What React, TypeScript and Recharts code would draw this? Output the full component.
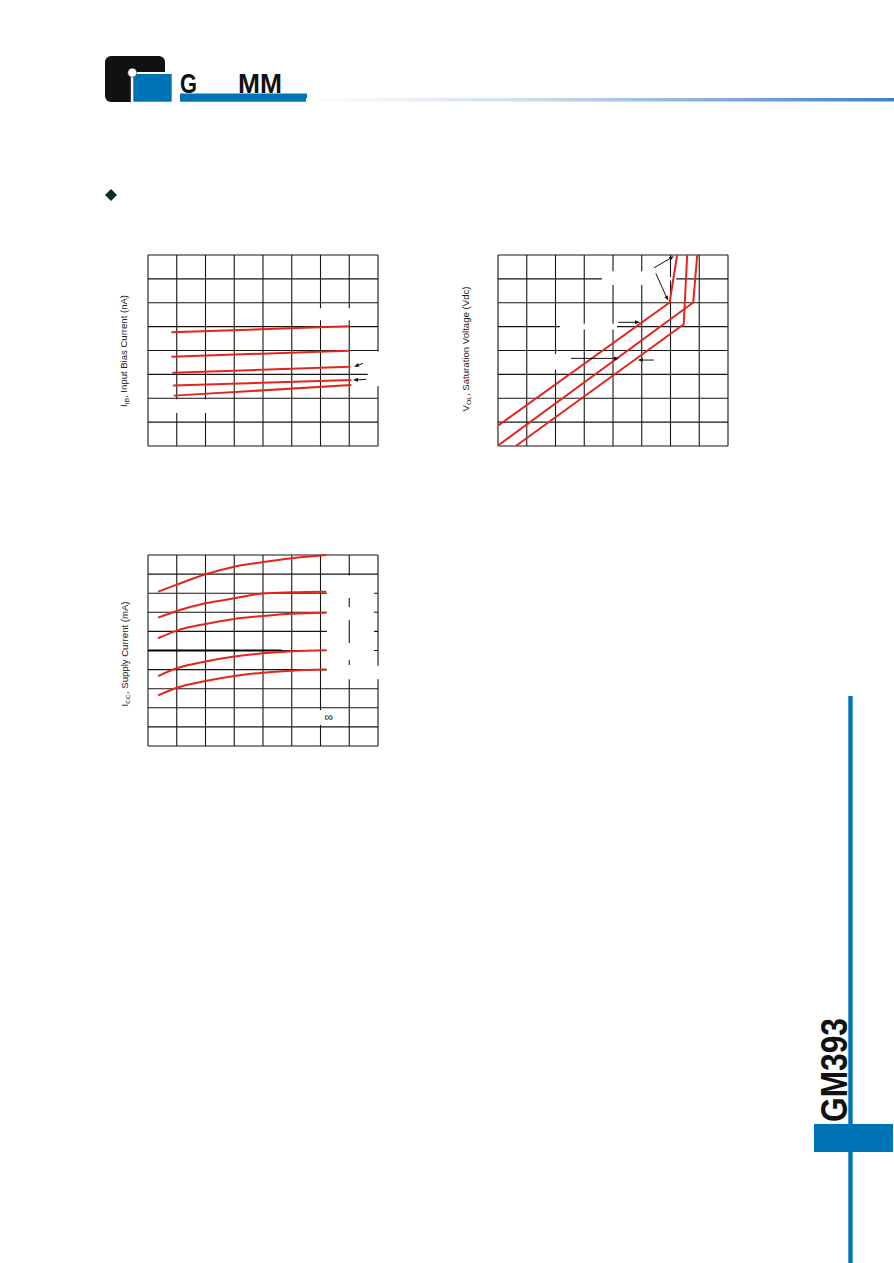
import React from "react";
import { CartesianGrid, Line, LineChart, ReferenceArea, ReferenceLine, XAxis, YAxis } from "recharts";

const RED = "#e3261d";
const GRID = "#151515";
const BLUE = "#0072b6";
const FONT = '"Liberation Sans", Arial, sans-serif';

// Input bias current vs supply voltage
const BIAS_X_TICKS = [0, 5, 10, 15, 20, 25, 30, 35, 40];
const BIAS_Y_TICKS = [0, 10, 20, 30, 40, 50, 60, 70, 80];
const BIAS_VCC = [
  [4.07, 34.96],
  [4.07, 34.96],
  [4.24, 35.2],
  [4.35, 35.37],
  [4.47, 35.37],
];
const BIAS_NA = [
  [47.6, 50.2],
  [37.4, 39.9],
  [30.7, 33.2],
  [25.3, 27.6],
  [21.1, 25.5],
];

// Output saturation voltage vs sink current (grid units)
const VOL_TICKS = [0, 1, 2, 3, 4, 5, 6, 7, 8];
const VOL_IOL = [
  [0, 5.97, 6.23],
  [0, 6.79, 6.93],
  [0.62, 6.46, 6.58],
];
const VOL_V = [
  [0.85, 6.01, 8],
  [0.02, 6.01, 8],
  [0, 5.1, 8],
];

// Supply current vs supply voltage
const ICC_X_TICKS = [0, 5, 10, 15, 20, 25, 30, 35, 40];
const ICC_Y_TICKS = [0, 0.1, 0.2, 0.3, 0.4, 0.5, 0.6, 0.7, 0.8, 0.9, 1.0];
const ICC_VCC = [1.75, 5, 10, 15, 20, 25, 31];
const ICC_MA = [
  [0.808, 0.845, 0.899, 0.939, 0.963, 0.983, 1.0],
  [0.672, 0.707, 0.747, 0.773, 0.799, 0.805, 0.808],
  [0.564, 0.604, 0.639, 0.665, 0.681, 0.693, 0.698],
  [0.366, 0.407, 0.442, 0.468, 0.485, 0.496, 0.501],
  [0.265, 0.305, 0.34, 0.366, 0.384, 0.394, 0.4],
];

const toPoints = (xs: number[], ys: number[]) => xs.map((x, i) => ({ x, y: ys[i] }));

function Arrow(props: any) {
  const { x1, y1, x2, y2 } = props;
  const dx = x2 - x1;
  const dy = y2 - y1;
  const len = Math.hypot(dx, dy) || 1;
  const ux = dx / len;
  const uy = dy / len;
  const h = 5;
  const w = 2;
  const bx = x2 - ux * h;
  const by = y2 - uy * h;
  return (
    <g>
      <line x1={x1} y1={y1} x2={bx} y2={by} stroke="#111" strokeWidth={1} />
      <polygon
        points={`${x2},${y2} ${bx - uy * w},${by + ux * w} ${bx + uy * w},${by - ux * w}`}
        fill="#111"
      />
    </g>
  );
}

const MARGIN = { top: 10, right: 10, bottom: 10, left: 10 };

function BiasChart() {
  return (
    <LineChart width={250} height={211} margin={MARGIN}>
      <XAxis type="number" dataKey="x" domain={[0, 40]} ticks={BIAS_X_TICKS} interval={0} hide />
      <YAxis type="number" domain={[0, 80]} ticks={BIAS_Y_TICKS} interval={0} hide />
      <CartesianGrid stroke={GRID} strokeWidth={1.1} />
      <ReferenceArea x1={29.5} x2={35.4} y1={52.7} y2={57.7} fill="#fff" fillOpacity={1} stroke="none" />
      <ReferenceArea x1={2.9} x2={14.2} y1={13.8} y2={19.6} fill="#fff" fillOpacity={1} stroke="none" />
      <ReferenceArea x1={38.2} x2={40.5} y1={25.1} y2={39.6} fill="#fff" fillOpacity={1} stroke="none" ifOverflow="visible" />
      {BIAS_VCC.map((xs, i) => (
        <Line
          key={i}
          data={toPoints(xs, BIAS_NA[i])}
          dataKey="y"
          type="linear"
          stroke={RED}
          strokeWidth={2}
          dot={false}
          isAnimationActive={false}
        />
      ))}
      <ReferenceLine segment={[{ x: 37.39, y: 34.6 }, { x: 35.83, y: 33.2 }]} shape={Arrow} ifOverflow="visible" />
      <ReferenceLine segment={[{ x: 37.95, y: 27.9 }, { x: 35.65, y: 27.6 }]} shape={Arrow} ifOverflow="visible" />
    </LineChart>
  );
}

function VolChart() {
  return (
    <LineChart width={250} height={211} margin={MARGIN}>
      <XAxis type="number" dataKey="x" domain={[0, 8]} ticks={VOL_TICKS} interval={0} hide />
      <YAxis type="number" domain={[0, 8]} ticks={VOL_TICKS} interval={0} hide />
      <CartesianGrid stroke={GRID} strokeWidth={1.1} />
      <ReferenceArea x1={3.62} x2={5.4} y1={6.74} y2={7.32} fill="#fff" fillOpacity={1} stroke="none" />
      <ReferenceArea x1={5.4} x2={6.2} y1={6.93} y2={7.07} fill="#fff" fillOpacity={1} stroke="none" />
      <ReferenceArea x1={2.15} x2={4.14} y1={4.88} y2={5.12} fill="#fff" fillOpacity={1} stroke="none" />
      <ReferenceArea x1={1.6} x2={2.4} y1={3.2} y2={3.85} fill="#fff" fillOpacity={1} stroke="none" />
      {VOL_IOL.map((xs, i) => (
        <Line
          key={i}
          data={toPoints(xs, VOL_V[i])}
          dataKey="y"
          type="linear"
          stroke={RED}
          strokeWidth={2}
          dot={false}
          isAnimationActive={false}
        />
      ))}
      <ReferenceLine segment={[{ x: 5.42, y: 7.46 }, { x: 6.12, y: 7.95 }]} shape={Arrow} ifOverflow="visible" />
      <ReferenceLine segment={[{ x: 5.49, y: 7.23 }, { x: 5.92, y: 6.08 }]} shape={Arrow} ifOverflow="visible" />
      <ReferenceLine segment={[{ x: 4.18, y: 5.18 }, { x: 4.94, y: 5.18 }]} shape={Arrow} />
      <ReferenceLine segment={[{ x: 2.54, y: 3.67 }, { x: 4.21, y: 3.67 }]} shape={Arrow} />
      <ReferenceLine segment={[{ x: 5.42, y: 3.6 }, { x: 4.86, y: 3.6 }]} shape={Arrow} />
    </LineChart>
  );
}

function IccChart() {
  return (
    <LineChart width={250} height={211} margin={MARGIN}>
      <XAxis type="number" dataKey="x" domain={[0, 40]} ticks={ICC_X_TICKS} interval={0} hide />
      <YAxis type="number" domain={[0, 1]} ticks={ICC_Y_TICKS} interval={0} hide />
      <CartesianGrid stroke={GRID} strokeWidth={1.1} />
      <ReferenceArea x1={31.1} x2={39.3} y1={0.35} y2={0.893} fill="#fff" fillOpacity={1} stroke="none" />
      <ReferenceArea x1={39.3} x2={40.5} y1={0.35} y2={0.42} fill="#fff" fillOpacity={1} stroke="none" ifOverflow="visible" />
      <ReferenceArea x1={29.5} x2={33} y1={0.11} y2={0.188} fill="#fff" fillOpacity={1} stroke="none" />
      <ReferenceLine segment={[{ x: 35, y: 0.775 }, { x: 35, y: 0.728 }]} stroke={GRID} strokeWidth={1.1} />
      <ReferenceLine segment={[{ x: 35, y: 0.66 }, { x: 35, y: 0.539 }]} stroke={GRID} strokeWidth={1.1} />
      <ReferenceLine segment={[{ x: 35, y: 0.45 }, { x: 35, y: 0.424 }]} stroke={GRID} strokeWidth={1.1} />
      <ReferenceLine segment={[{ x: 0, y: 0.5 }, { x: 23.2, y: 0.5 }]} stroke="#000" strokeWidth={2} />
      {ICC_MA.map((ys, i) => (
        <Line
          key={i}
          data={toPoints(ICC_VCC, ys)}
          dataKey="y"
          type="monotone"
          stroke={RED}
          strokeWidth={2}
          dot={false}
          isAnimationActive={false}
        />
      ))}
    </LineChart>
  );
}

function AxisTitle({ x, y, main, sub, rest, length }: any) {
  return (
    <text
      transform={`translate(${x},${y}) rotate(-90)`}
      textAnchor="middle"
      fontFamily={FONT}
      fontSize={8.5}
      fill="#222"
      textLength={length}
      lengthAdjust="spacingAndGlyphs"
    >
      {main}
      <tspan fontSize={6} dy={2}>{sub}</tspan>
      <tspan dy={-2}>{rest}</tspan>
    </text>
  );
}

function Page() {
  return (
    <svg width={894} height={1263} style={{ position: "absolute", left: 0, top: 0, pointerEvents: "none" }}>
      <defs>
        <linearGradient id="hdr" x1="0" x2="1" y1="0" y2="0">
          <stop offset="0" stopColor="#ffffff" />
          <stop offset="0.35" stopColor="#d3e0f0" />
          <stop offset="1" stopColor="#3f80c6" />
        </linearGradient>
      </defs>
      {/* logo */}
      <rect x={105} y={56} width={60} height={46} rx={6} fill="#111" />
      <rect x={130.8} y={72} width={42} height={30} fill="#fff" />
      <rect x={133.3} y={74} width={38.4} height={27.7} fill={BLUE} />
      <circle cx={132.3} cy={72.7} r={4.5} fill="#fff" stroke="#333" strokeWidth={0.6} />
      <text x={180} y={92.5} fontFamily={FONT} fontWeight="bold" fontSize={28} fill="#111" textLength={17} lengthAdjust="spacingAndGlyphs">G</text>
      <text x={238} y={92.5} fontFamily={FONT} fontWeight="bold" fontSize={28} fill="#111" textLength={44} lengthAdjust="spacingAndGlyphs">MM</text>
      <rect x={180} y={93.5} width={127} height={8.2} fill={BLUE} />
      <rect x={306} y={98} width={588} height={3.5} fill="url(#hdr)" />
      {/* bullet */}
      <polygon points="111,189 117,195 111,201 105,195" fill="#0c2e22" />
      {/* axis titles */}
      <AxisTitle x={127} y={351} main="I" sub="IB" rest=", Input Bias Current (nA)" length={112} />
      <AxisTitle x={469} y={349} main="V" sub="OL" rest=", Saturation Voltage (Vdc)" length={125} />
      <AxisTitle x={128} y={654} main="I" sub="CC" rest=", Supply Current (mA)" length={105} />
      <text x={328.7} y={721} textAnchor="middle" fontFamily={FONT} fontSize={12} fill="#111">∞</text>
      {/* side tab */}
      <rect x={848.3} y={696} width={4.4} height={567} fill={BLUE} />
      <rect x={814} y={1124} width={79} height={28} fill={BLUE} />
      <text
        transform="translate(846.5,1122) rotate(-90)"
        fontFamily={FONT}
        fontWeight="bold"
        fontSize={36}
        fill="#111"
        textLength={104}
        lengthAdjust="spacingAndGlyphs"
      >
        GM393
      </text>
    </svg>
  );
}

export default function App() {
  return (
    <div style={{ position: "absolute", left: 0, top: 0, width: 894, height: 1263, background: "#fff" }}>
      <div style={{ position: "absolute", left: 138, top: 245 }}>
        <BiasChart />
      </div>
      <div style={{ position: "absolute", left: 488, top: 245 }}>
        <VolChart />
      </div>
      <div style={{ position: "absolute", left: 138, top: 545 }}>
        <IccChart />
      </div>
      <Page />
    </div>
  );
}
